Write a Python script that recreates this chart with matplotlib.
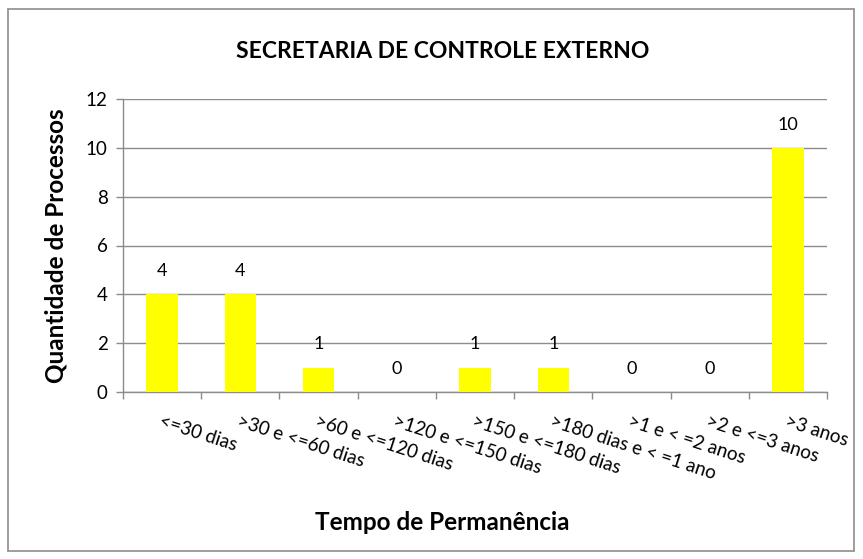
import matplotlib.pyplot as plt
from matplotlib.patches import Rectangle
from matplotlib.ticker import FixedLocator

categories = ["<=30 dias", ">30 e <=60 dias", ">60 e <=120 dias", ">120 e <=150 dias",
              ">150 e <=180 dias", ">180 dias e < =1 ano", ">1 e < =2 anos",
              ">2 e <=3 anos", ">3 anos"]
values = [4, 4, 1, 0, 1, 1, 0, 0, 10]
yticks = [0, 2, 4, 6, 8, 10, 12]

plt.rcParams["font.family"] = ["Lato", "DejaVu Sans"]
grey = "#8c8c8c"

fig = plt.figure(figsize=(8.63, 5.59), dpi=100)
W, H = 863, 559
ax = fig.add_axes([123 / W, 1 - 392 / H, (827 - 123) / W, (392 - 99) / H])

fig.patches.append(Rectangle((8 / W, 8 / H), 846 / W, 542 / H, transform=fig.transFigure,
                             fill=False, edgecolor=grey, linewidth=1.2))

x = list(range(len(categories)))
ax.bar(x, values, width=0.4, color="#ffff00", zorder=3)
for xi, v in zip(x, values):
    ax.annotate(str(v), (xi, v), xytext=(0, 11), textcoords="offset points",
                ha="center", va="bottom", fontsize=13)

ax.set_xlim(-0.5, len(categories) - 0.5)
ax.set_ylim(0, 12)
ax.set_yticks(yticks)
ax.yaxis.grid(True, color=grey, linewidth=1, zorder=0)
ax.set_axisbelow(True)

ax.set_xticks(x)
ax.set_xticklabels(categories, rotation=-18, ha="left", va="top",
                   rotation_mode="anchor", fontsize=13.5)
ax.xaxis.set_minor_locator(FixedLocator([i + 0.5 for i in range(-1, len(categories))]))
ax.tick_params(axis="x", which="major", length=0, pad=15)
ax.tick_params(axis="x", which="minor", length=5, color=grey, width=1)
ax.tick_params(axis="y", length=5, color=grey, width=1, labelsize=13.5, pad=6)

for side in ["top", "right"]:
    ax.spines[side].set_visible(False)
for side in ["left", "bottom"]:
    ax.spines[side].set_color(grey)
    ax.spines[side].set_linewidth(1)

fig.text(443 / W, 1 - 52 / H, "SECRETARIA DE CONTROLE EXTERNO",
         ha="center", va="center", fontsize=16.5, fontweight="bold")
fig.text(56 / W, 1 - 246 / H, "Quantidade de Processos", rotation=90,
         ha="center", va="center", fontsize=17.5, fontweight="bold")
fig.text(442 / W, 1 - 523 / H, "Tempo de Permanência",
         ha="center", va="center", fontsize=17.5, fontweight="bold")

fig.savefig("out.png", dpi=100)
